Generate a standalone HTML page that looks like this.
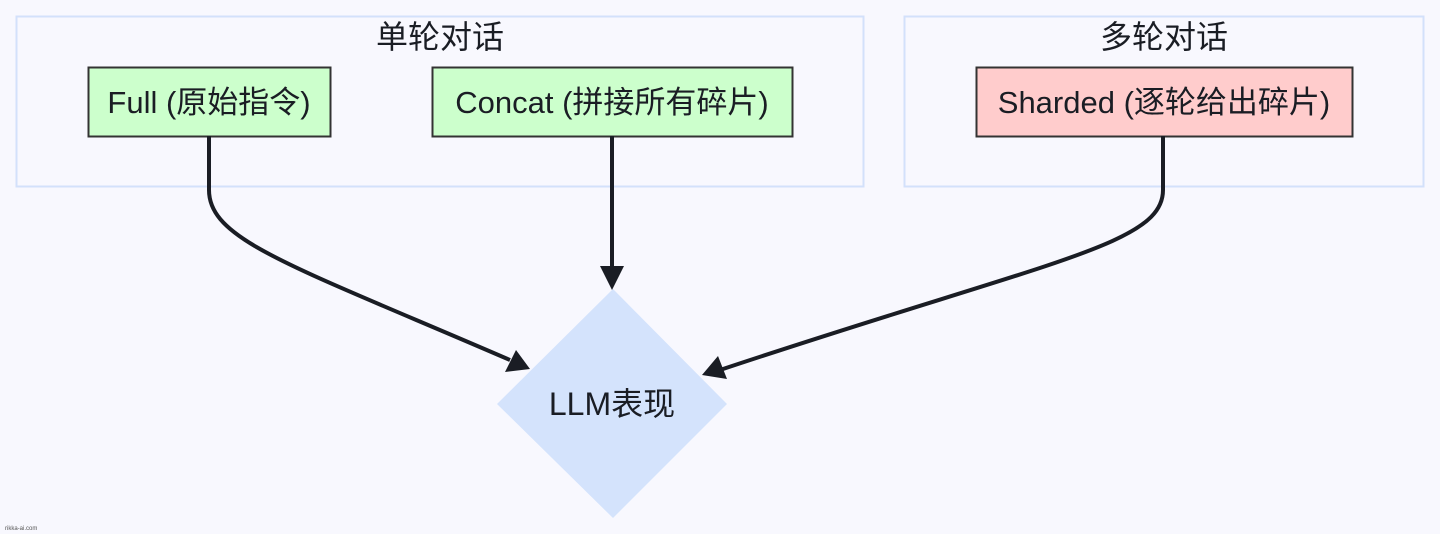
<!DOCTYPE html>
<html><head><meta charset="utf-8"><style>
html,body{margin:0;padding:0;background:#f8f8fe;overflow:hidden;}
svg{display:block;}
svg text{font-family:"Liberation Sans","Noto Sans CJK SC",sans-serif;fill:#1a1d24;}
</style></head><body>
<svg width="1440" height="534" viewBox="0 0 1440 534" xmlns="http://www.w3.org/2000/svg">
<rect width="1440" height="534" fill="#f8f8fe"/>
<rect x="16.5" y="16.5" width="847" height="170" fill="none" stroke="#d3e1fb" stroke-width="2"/>
<rect x="904.5" y="16.5" width="519" height="170" fill="none" stroke="#d3e1fb" stroke-width="2"/>
<text x="440" y="48" font-size="32" text-anchor="middle">单轮对话</text>
<text x="1164" y="48" font-size="32" text-anchor="middle">多轮对话</text>
<polygon points="613,289 727,404 613,518 497,404" fill="#d4e3fc"/>
<rect x="88.5" y="67.5" width="242" height="69" fill="#ccffcc" stroke="#333" stroke-width="2"/>
<rect x="432.5" y="67.5" width="360" height="69" fill="#ccffcc" stroke="#333" stroke-width="2"/>
<rect x="976.5" y="67.5" width="376" height="69" fill="#ffcccc" stroke="#333" stroke-width="2"/>
<text x="209" y="113" font-size="31" text-anchor="middle">Full (原始指令)</text>
<text x="612" y="113" font-size="31" text-anchor="middle">Concat (拼接所有碎片)</text>
<text x="1164" y="113" font-size="31" text-anchor="middle">Sharded (逐轮给出碎片)</text>
<text x="612" y="415" font-size="32" text-anchor="middle">LLM表现</text>
<g fill="none" stroke="#1a1d24" stroke-width="4">
<path d="M209,136 L209,190 C209,240 290,265 510,360"/>
<path d="M612,136 L612,268"/>
<path d="M1163,136 L1163,190 C1163,245 1050,260 720,370"/>
</g>
<g fill="#1a1d24">
<polygon points="600,266 624,266 612,290"/>
<polygon points="530,369 505,372 516,350"/>
<polygon points="702,375 718,356 727,379"/>
</g>
<text x="5" y="530" font-size="6" style="fill:#555">rikka-ai.com</text>
</svg>
</body></html>
